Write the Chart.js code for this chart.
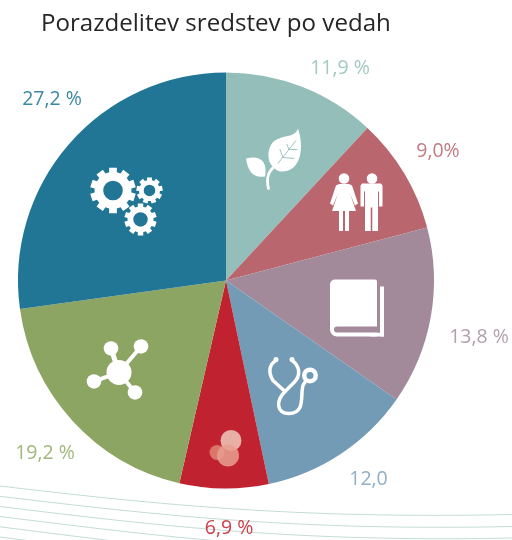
<!DOCTYPE html>
<html><head><meta charset="utf-8">
<style>html,body{margin:0;padding:0;background:#fff}canvas{display:block}</style>
<script src="https://cdn.jsdelivr.net/npm/chart.js@4/dist/chart.umd.min.js"></script>
</head><body><div style="width:512px;height:540px"><canvas id="c" width="512" height="540"></canvas></div>
<script>
const titleText = 'Porazdelitev sredstev po vedah';
const categories = ['Naravoslovje','Družboslovje','Humanistika','Medicina','Biotehnika','Kemija','Tehnika'];
const values = [11.9, 9.0, 13.8, 12.0, 6.9, 19.2, 27.2];
const valueLabels = ['11,9 %','9,0%','13,8 %','12,0','6,9 %','19,2 %','27,2 %'];
const sliceColors = ['#93BEB9','#B9666E','#A38A9A','#749BB6','#C0222F','#8DA563','#227695'];
const labelColors = ['#A3C9C4','#C27C83','#B3A0AD','#8FAFC6','#CB3F4A','#A2B77E','#3C88A3'];
const labelOffsets = [[114,-212.5],[212,-129],[253,56.5],[142.5,199],[3,248],[-181,172.5],[-174,-181]];
const FONT = '"Open Sans"';

function gear(ctx,x,y,R,r,hole,teeth){
  ctx.beginPath();
  const step=Math.PI*2/teeth;
  for(let i=0;i<teeth;i++){
    const a=i*step-Math.PI/2, w=step*0.27, w2=step*0.33;
    const p=[[r,a-w2],[R,a-w],[R,a+w],[r,a+w2]];
    p.forEach(([q,t],k)=>{const X=x+q*Math.cos(t),Y=y+q*Math.sin(t);(i===0&&k===0)?ctx.moveTo(X,Y):ctx.lineTo(X,Y);});
  }
  ctx.closePath();
  ctx.moveTo(x+hole,y);ctx.arc(x,y,hole,0,Math.PI*2,true);
  ctx.fillStyle='#fff';ctx.fill('evenodd');
}
function dot(ctx,x,y,r,fill){ctx.beginPath();ctx.arc(x,y,r,0,Math.PI*2);ctx.fillStyle=fill;ctx.fill();}
function seg(ctx,a,b,c,d,w){ctx.beginPath();ctx.moveTo(a,b);ctx.lineTo(c,d);ctx.lineWidth=w;ctx.strokeStyle='#fff';ctx.stroke();}
function poly(ctx,pts){ctx.beginPath();pts.forEach((p,i)=>i?ctx.lineTo(p[0],p[1]):ctx.moveTo(p[0],p[1]));ctx.closePath();ctx.fill();}

const bgLines = {
  id:'bgLines',
  beforeDraw(chart){
    const ctx=chart.ctx;ctx.save();ctx.strokeStyle='#C4DCD7';ctx.lineWidth=1;
    const L=[[486,514.5],[496.3,526.5],[506.5,538],[516.5,550],[526.8,562],[537,574]];
    L.forEach(([a,b],i)=>{ctx.beginPath();ctx.moveTo(0,a);ctx.bezierCurveTo(160,a+19+0.3*i,300,b+4.5,512,b);ctx.stroke();});
    ctx.restore();
  }
};
const icons = {
  id:'icons',
  afterDatasetsDraw(chart){
    const arc=chart.getDatasetMeta(0).data[0];
    const cx=arc.x, cy=arc.y, ctx=chart.ctx;
    ctx.save();ctx.translate(cx-226,cy-281);ctx.lineCap='round';ctx.lineJoin='round';
    // gears
    gear(ctx,113,191,23,18.5,9.8,10);gear(ctx,149.5,191,13.3,10.5,5.8,9);gear(ctx,140.5,220,16.3,13,7.2,10);
    // leaf
    ctx.fillStyle='#fff';
    ctx.beginPath();ctx.moveTo(298,129);ctx.bezierCurveTo(305,150,300,173,281,172);ctx.bezierCurveTo(277,172,275,169,274,168);
    ctx.bezierCurveTo(266,163,267,146,275,141);ctx.bezierCurveTo(285,135,295,138,298,129);ctx.fill();
    ctx.beginPath();ctx.moveTo(246,159);ctx.bezierCurveTo(258,156,268,160,265,177);ctx.bezierCurveTo(253,179,248,172,246,159);ctx.fill();
    ctx.strokeStyle='#fff';ctx.lineWidth=2.8;ctx.beginPath();ctx.moveTo(268.5,189);ctx.bezierCurveTo(266,178,268,172,276,166);ctx.stroke();
    ctx.strokeStyle='#93BEB9';ctx.lineWidth=0.9;ctx.beginPath();ctx.moveTo(278,164);ctx.lineTo(296,141);
    ctx.moveTo(283,158);ctx.lineTo(280,150);ctx.moveTo(289,150);ctx.lineTo(287,145);ctx.moveTo(283,158);ctx.lineTo(294,159);ctx.moveTo(289,150);ctx.lineTo(297,150);ctx.stroke();
    // people
    ctx.fillStyle='#fff';
    dot(ctx,344,179,5.3,'#fff');dot(ctx,372,179,5.3,'#fff');
    poly(ctx,[[339,184.5],[349,184.5],[352,186],[358,204],[355,206],[350,194],[356,211.5],[332,211.5],[338,194],[333,206],[330,204],[336,186]]);
    ctx.fillRect(339,211,4,20.5);ctx.fillRect(345,211,4,20.5);
    poly(ctx,[[362,184],[381,184],[382.5,186],[382.5,207],[379,207],[379,192],[378,192],[378,231.5],[372.3,231.5],[372.3,208],[370.7,208],[370.7,231.5],[365,231.5],[365,192],[364,192],[364,207],[360.5,207],[360.5,186]]);
    // book
    ctx.beginPath();ctx.roundRect(330,280,47,57,[5,2,0,7]);ctx.fill();
    ctx.fillRect(370,333,14,4);ctx.fillRect(380,287,4,50);
    ctx.fillStyle='#A38A9A';ctx.beginPath();ctx.roundRect(334,327,46,6,[3,0,0,3]);ctx.fill();
    // stethoscope
    ctx.strokeStyle='#fff';ctx.lineWidth=3.5;
    ctx.beginPath();ctx.moveTo(276,361);ctx.bezierCurveTo(269,365,268,373,273,381);ctx.lineTo(285,392);ctx.lineTo(294,383);ctx.bezierCurveTo(301,376,300,367,292,361);ctx.stroke();
    ctx.beginPath();ctx.moveTo(285,392);ctx.bezierCurveTo(275,402,277,414,289,414);ctx.bezierCurveTo(306,414,300,395,303,386);ctx.lineTo(306,381);ctx.stroke();
    dot(ctx,276,360,2.5,'#fff');dot(ctx,292,360,2.5,'#fff');
    dot(ctx,310,376,8,'#fff');dot(ctx,310,376,3.5,'#749BB6');
    // cells
    dot(ctx,217,453,7.5,'rgba(225,130,115,.85)');dot(ctx,231,441,10.5,'#E7AFA6');dot(ctx,228,456,11,'rgba(232,160,145,.85)');
    // network
    seg(ctx,119,373,111,349,5);seg(ctx,119,373,141,347,4);seg(ctx,119,373,94,382,4);seg(ctx,119,373,135,393,4);
    dot(ctx,119,373,12.5,'#fff');dot(ctx,111,349,7.3,'#fff');dot(ctx,141,347,7.3,'#fff');dot(ctx,94,382,7.3,'#fff');dot(ctx,135,393,7.3,'#fff');
    ctx.restore();
    // value labels
    ctx.save();ctx.font='400 19.5px '+FONT;ctx.textAlign='center';ctx.textBaseline='middle';
    valueLabels.forEach((t,i)=>{ctx.fillStyle=labelColors[i];ctx.fillText(t,cx+labelOffsets[i][0],cy+labelOffsets[i][1]);});
    ctx.restore();
  },
  afterLayout(chart){ if(chart.titleBlock){chart.titleBlock.left=41;} }
};
new Chart(document.getElementById('c'),{
  type:'pie',
  data:{labels:categories,datasets:[{data:values,backgroundColor:sliceColors,borderWidth:0}]},
  options:{responsive:false,animation:false,
    layout:{padding:{left:18,right:78,top:0,bottom:51}},
    plugins:{legend:{display:false},tooltip:{enabled:false},
      title:{display:true,text:titleText,align:'start',color:'#262626',font:{family:FONT,size:24.1,weight:'400'},padding:{top:10,bottom:33}}}},
  plugins:[bgLines,icons]
});
</script></body></html>
